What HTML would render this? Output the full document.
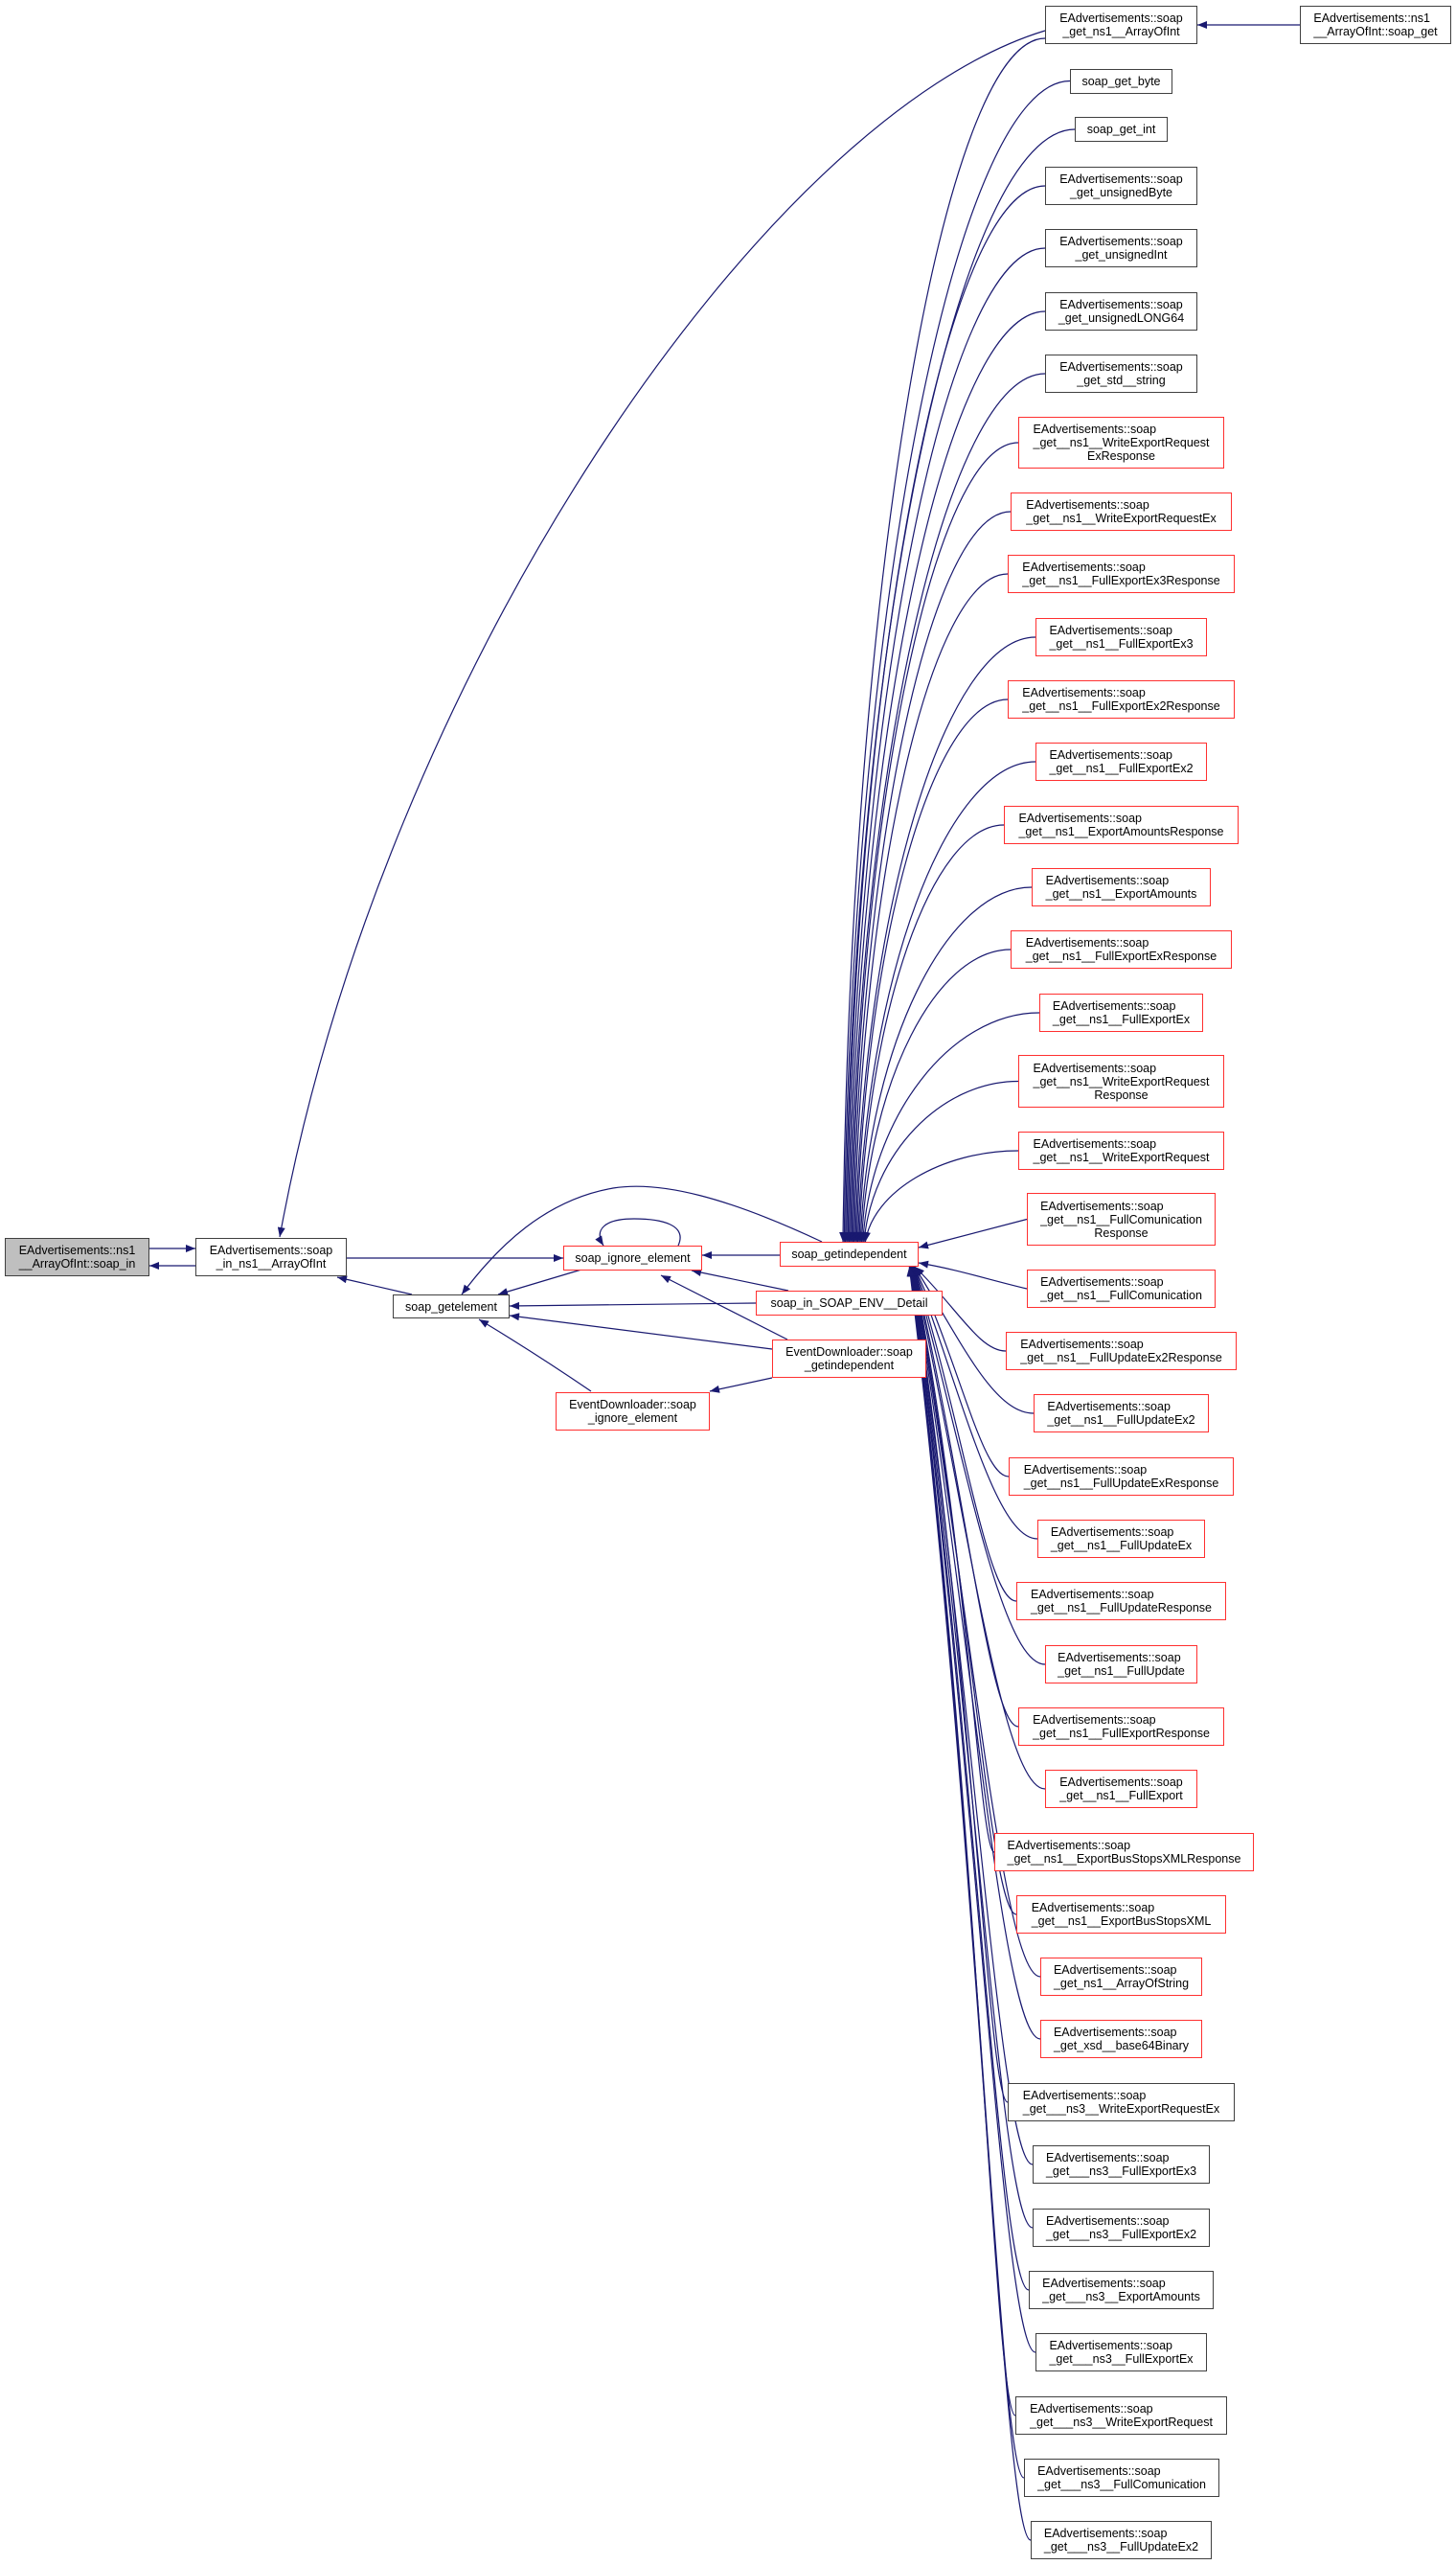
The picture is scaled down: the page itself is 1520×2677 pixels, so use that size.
<!DOCTYPE html>
<html><head><meta charset="utf-8">
<style>
html,body{margin:0;padding:0;background:#fff;}
body{width:1520px;height:2677px;position:relative;overflow:hidden;font-family:"Liberation Sans",Arial,sans-serif;font-size:12.5px;color:#000;}
.n{position:absolute;box-sizing:border-box;border:1.3px solid #404040;background:#fff;display:flex;align-items:center;justify-content:center;text-align:center;line-height:14px;white-space:nowrap;}
.r{border-color:#ff3030;}
.g{background:#bfbfbf;}
.n span{display:inline-block;text-align:left;}
.n span i{display:block;text-align:center;font-style:normal;}
svg{position:absolute;left:0;top:0;}
</style></head><body>
<svg id="s" width="1520" height="2677" viewBox="0 0 1520 2677">
<defs><marker id="a" viewBox="0 0 10 8" refX="10" refY="4" markerWidth="11" markerHeight="8" markerUnits="userSpaceOnUse" orient="auto"><path d="M0,0L10,4L0,8z" fill="#191970"/></marker></defs>
<g id="e" fill="none" stroke="#191970" stroke-width="1.2" marker-end="url(#a)">
<path d="M156,1303 L204,1303"/>
<path d="M204,1321 L156,1321"/>
<path d="M1091,32 C800,120 400,700 292,1291"/>
<path d="M1357,26 L1250,26"/>
<path d="M430,1351 L352,1333"/>
<path d="M362,1313 L588,1313"/>
<path d="M607,1325 L520,1351"/>
<path d="M708,1300 C718,1278 690,1272 662,1272 C630,1272 620,1284 630,1300"/>
<path d="M814,1310 L733,1310"/>
<path d="M858,1296 C760,1250 690,1232 640,1240 C570,1252 520,1300 482,1351"/>
<path d="M823,1347 L722,1326"/>
<path d="M789,1360 L532,1363"/>
<path d="M822,1398 L690,1331"/>
<path d="M806,1408 L532,1373"/>
<path d="M617,1452 C570,1420 530,1395 500,1377"/>
<path d="M806,1438 L741,1452"/>
</g>
</svg>

<div class="n g" style="left:5px;top:1292px;width:151px;height:40px"><span>EAdvertisements::ns1<br>__ArrayOfInt::soap_in</span></div>
<div class="n" style="left:204px;top:1292px;width:158px;height:40px"><div>EAdvertisements::soap<br>_in_ns1__ArrayOfInt</div></div>
<div class="n" style="left:410px;top:1351px;width:122px;height:25px">soap_getelement</div>
<div class="n r" style="left:588px;top:1300px;width:145px;height:26px">soap_ignore_element</div>
<div class="n r" style="left:814px;top:1296px;width:145px;height:26px">soap_getindependent</div>
<div class="n r" style="left:789px;top:1347px;width:195px;height:26px">soap_in_SOAP_ENV__Detail</div>
<div class="n r" style="left:806px;top:1398px;width:161px;height:40px"><div>EventDownloader::soap<br>_getindependent</div></div>
<div class="n r" style="left:580px;top:1453px;width:161px;height:40px"><div>EventDownloader::soap<br>_ignore_element</div></div>
<div class="n" style="left:1357px;top:6px;width:158px;height:40px"><span>EAdvertisements::ns1<br>__ArrayOfInt::soap_get</span></div>

<div class="n" style="left:1091px;top:6px;width:159px;height:40px"><div>EAdvertisements::soap<br>_get_ns1__ArrayOfInt</div></div>
<div class="n" style="left:1117px;top:72px;width:107px;height:26px">soap_get_byte</div>
<div class="n" style="left:1122px;top:122px;width:97px;height:26px">soap_get_int</div>
<div class="n" style="left:1091px;top:174px;width:159px;height:40px"><div>EAdvertisements::soap<br>_get_unsignedByte</div></div>
<div class="n" style="left:1091px;top:239px;width:159px;height:40px"><div>EAdvertisements::soap<br>_get_unsignedInt</div></div>
<div class="n" style="left:1091px;top:305px;width:159px;height:40px"><div>EAdvertisements::soap<br>_get_unsignedLONG64</div></div>
<div class="n" style="left:1091px;top:370px;width:159px;height:40px"><div>EAdvertisements::soap<br>_get_std__string</div></div>
<div class="n r" style="left:1063px;top:435px;width:215px;height:54px"><span>EAdvertisements::soap<br>_get__ns1__WriteExportRequest<i>ExResponse</i></span></div>
<div class="n r" style="left:1055px;top:514px;width:231px;height:40px"><span>EAdvertisements::soap<br>_get__ns1__WriteExportRequestEx</span></div>
<div class="n r" style="left:1052px;top:579px;width:237px;height:40px"><span>EAdvertisements::soap<br>_get__ns1__FullExportEx3Response</span></div>
<div class="n r" style="left:1081px;top:645px;width:179px;height:40px"><span>EAdvertisements::soap<br>_get__ns1__FullExportEx3</span></div>
<div class="n r" style="left:1052px;top:710px;width:237px;height:40px"><span>EAdvertisements::soap<br>_get__ns1__FullExportEx2Response</span></div>
<div class="n r" style="left:1081px;top:775px;width:179px;height:40px"><span>EAdvertisements::soap<br>_get__ns1__FullExportEx2</span></div>
<div class="n r" style="left:1048px;top:841px;width:245px;height:40px"><span>EAdvertisements::soap<br>_get__ns1__ExportAmountsResponse</span></div>
<div class="n r" style="left:1077px;top:906px;width:187px;height:40px"><span>EAdvertisements::soap<br>_get__ns1__ExportAmounts</span></div>
<div class="n r" style="left:1055px;top:971px;width:231px;height:40px"><span>EAdvertisements::soap<br>_get__ns1__FullExportExResponse</span></div>
<div class="n r" style="left:1085px;top:1037px;width:171px;height:40px"><span>EAdvertisements::soap<br>_get__ns1__FullExportEx</span></div>
<div class="n r" style="left:1063px;top:1101px;width:215px;height:55px"><span>EAdvertisements::soap<br>_get__ns1__WriteExportRequest<i>Response</i></span></div>
<div class="n r" style="left:1063px;top:1181px;width:215px;height:40px"><span>EAdvertisements::soap<br>_get__ns1__WriteExportRequest</span></div>
<div class="n r" style="left:1072px;top:1245px;width:197px;height:55px"><span>EAdvertisements::soap<br>_get__ns1__FullComunication<i>Response</i></span></div>
<div class="n r" style="left:1072px;top:1325px;width:197px;height:40px"><span>EAdvertisements::soap<br>_get__ns1__FullComunication</span></div>
<div class="n r" style="left:1050px;top:1390px;width:241px;height:40px"><span>EAdvertisements::soap<br>_get__ns1__FullUpdateEx2Response</span></div>
<div class="n r" style="left:1079px;top:1455px;width:183px;height:40px"><span>EAdvertisements::soap<br>_get__ns1__FullUpdateEx2</span></div>
<div class="n r" style="left:1053px;top:1521px;width:235px;height:40px"><span>EAdvertisements::soap<br>_get__ns1__FullUpdateExResponse</span></div>
<div class="n r" style="left:1083px;top:1586px;width:175px;height:40px"><span>EAdvertisements::soap<br>_get__ns1__FullUpdateEx</span></div>
<div class="n r" style="left:1061px;top:1651px;width:219px;height:40px"><span>EAdvertisements::soap<br>_get__ns1__FullUpdateResponse</span></div>
<div class="n r" style="left:1091px;top:1717px;width:159px;height:40px"><span>EAdvertisements::soap<br>_get__ns1__FullUpdate</span></div>
<div class="n r" style="left:1063px;top:1782px;width:215px;height:40px"><span>EAdvertisements::soap<br>_get__ns1__FullExportResponse</span></div>
<div class="n r" style="left:1091px;top:1847px;width:159px;height:40px"><span>EAdvertisements::soap<br>_get__ns1__FullExport</span></div>
<div class="n r" style="left:1038px;top:1913px;width:271px;height:40px"><span>EAdvertisements::soap<br>_get__ns1__ExportBusStopsXMLResponse</span></div>
<div class="n r" style="left:1061px;top:1978px;width:219px;height:40px"><span>EAdvertisements::soap<br>_get__ns1__ExportBusStopsXML</span></div>
<div class="n r" style="left:1086px;top:2043px;width:169px;height:40px"><span>EAdvertisements::soap<br>_get_ns1__ArrayOfString</span></div>
<div class="n r" style="left:1086px;top:2108px;width:169px;height:40px"><span>EAdvertisements::soap<br>_get_xsd__base64Binary</span></div>
<div class="n" style="left:1052px;top:2174px;width:237px;height:40px"><span>EAdvertisements::soap<br>_get___ns3__WriteExportRequestEx</span></div>
<div class="n" style="left:1078px;top:2239px;width:185px;height:40px"><span>EAdvertisements::soap<br>_get___ns3__FullExportEx3</span></div>
<div class="n" style="left:1078px;top:2305px;width:185px;height:40px"><span>EAdvertisements::soap<br>_get___ns3__FullExportEx2</span></div>
<div class="n" style="left:1074px;top:2370px;width:193px;height:40px"><span>EAdvertisements::soap<br>_get___ns3__ExportAmounts</span></div>
<div class="n" style="left:1081px;top:2435px;width:179px;height:40px"><span>EAdvertisements::soap<br>_get___ns3__FullExportEx</span></div>
<div class="n" style="left:1060px;top:2501px;width:221px;height:40px"><span>EAdvertisements::soap<br>_get___ns3__WriteExportRequest</span></div>
<div class="n" style="left:1069px;top:2566px;width:204px;height:40px"><span>EAdvertisements::soap<br>_get___ns3__FullComunication</span></div>
<div class="n" style="left:1076px;top:2631px;width:189px;height:40px"><span>EAdvertisements::soap<br>_get___ns3__FullUpdateEx2</span></div>

<script>
(function(){
var N=[[1091,6,46],[1117,72,97],[1122,122,148],[1091,174,214],[1091,239,279],[1091,305,345],[1091,370,410],[1063,435,489],[1055,514,554],[1052,579,619],[1081,645,685],[1052,710,750],[1081,775,815],[1048,841,881],[1077,906,946],[1055,971,1011],[1085,1037,1077],[1063,1101,1156],[1063,1181,1221],[1072,1245,1300],[1072,1325,1365],[1050,1390,1430],[1079,1455,1495],[1053,1521,1561],[1083,1586,1626],[1061,1651,1691],[1091,1717,1757],[1063,1782,1822],[1091,1847,1887],[1038,1913,1953],[1061,1978,2018],[1086,2043,2083],[1086,2108,2148],[1052,2174,2214],[1078,2239,2279],[1078,2305,2345],[1074,2370,2410],[1081,2435,2475],[1060,2501,2541],[1069,2566,2606],[1076,2631,2671]];
var g=document.getElementById('e'),d,ns='http://www.w3.org/2000/svg';
for(var i=0;i<N.length;i++){
 var x=N[i][0],cy=(N[i][1]+N[i][2])/2;
 if(i==0)cy=40;
 if(cy<1240){
  var ex=880+i*1.3,ey=1296;
  d='M'+x+','+cy+' C'+(x-0.5*(x-ex))+','+cy+' '+(ex+8)+','+(cy+0.45*(ey-cy))+' '+ex+','+ey;
 }else if(i==19){
  d='M'+x+','+(cy)+' L959,1302';
 }else if(i==20){
  d='M'+x+','+cy+' C1030,1335 1000,1325 959,1318';
 }else{
  var ex2=955-(i-21)*0.3,ey2=1322,bx=1000+(i-21)*1.2;
  d='M'+x+','+cy+' C'+(x-0.55*(x-bx))+','+cy+' '+bx+','+(cy-0.55*(cy-1330))+' '+ex2+','+ey2;
 }
 var p=document.createElementNS(ns,'path');p.setAttribute('d',d);g.appendChild(p);
}
})();
</script>
</body></html>
